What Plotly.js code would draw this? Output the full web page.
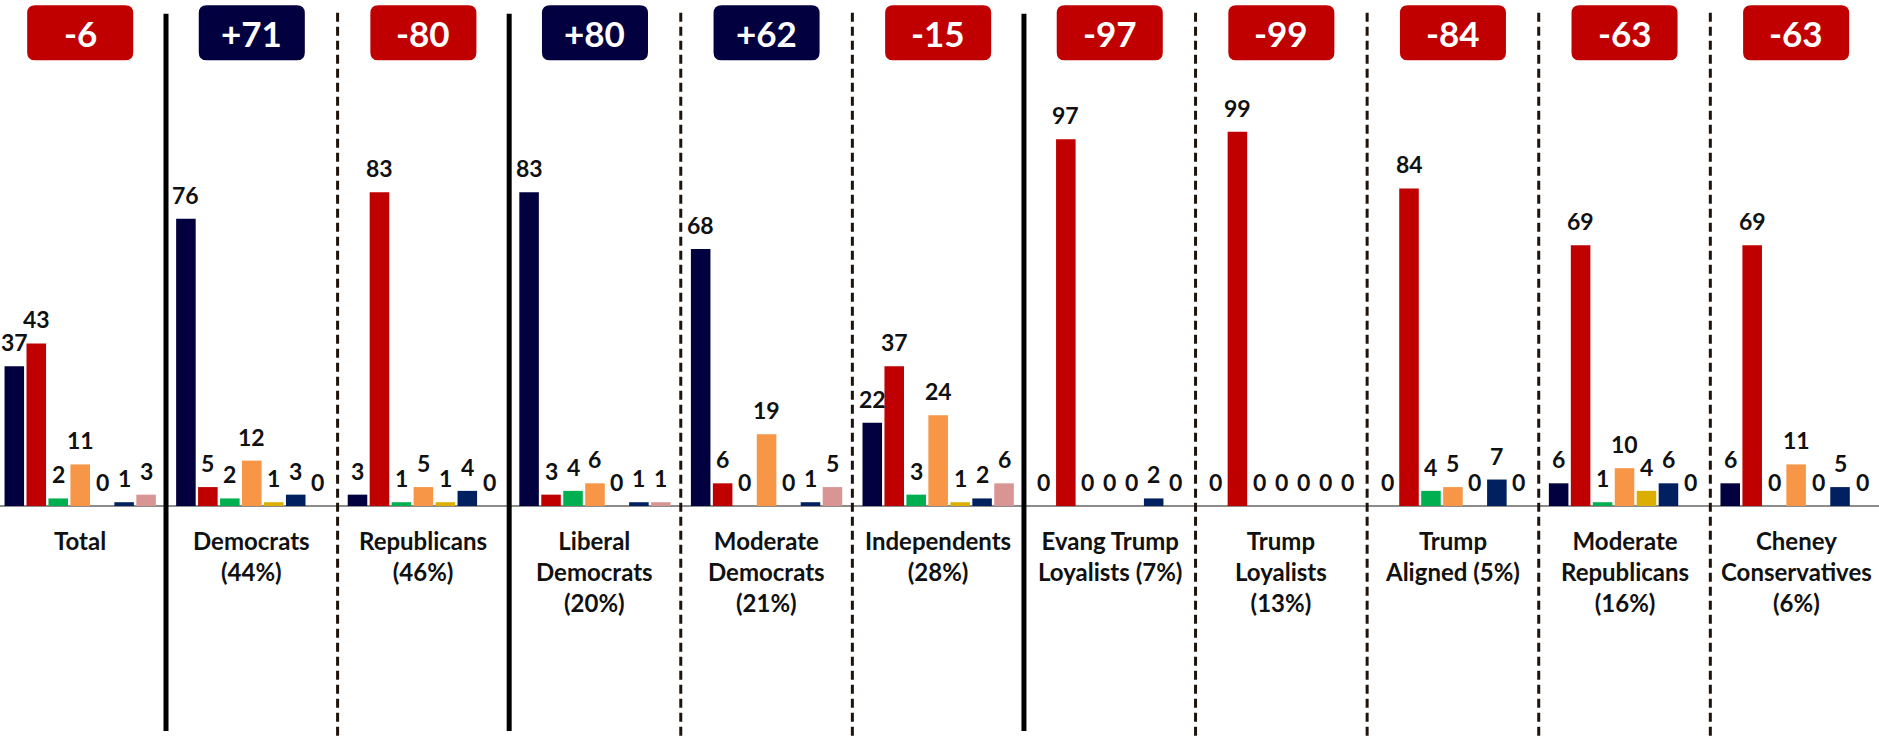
<!DOCTYPE html>
<html>
<head>
<meta charset="utf-8">
<script src="https://cdn.plot.ly/plotly-3.0.1.min.js"></script>
<style>
  html, body { margin: 0; padding: 0; background: #ffffff; }
  #chart { width: 1879px; height: 738px; }
</style>
</head>
<body>
<div id="chart"></div>
<script>
// ---- data ----
const categories = [
  "Total",
  "Democrats<br>(44%)",
  "Republicans<br>(46%)",
  "Liberal<br>Democrats<br>(20%)",
  "Moderate<br>Democrats<br>(21%)",
  "Independents<br>(28%)",
  "Evang Trump<br>Loyalists (7%)",
  "Trump<br>Loyalists<br>(13%)",
  "Trump<br>Aligned (5%)",
  "Moderate<br>Republicans<br>(16%)",
  "Cheney<br>Conservatives<br>(6%)"
];
const seriesNames = ["Series 1", "Series 2", "Series 3", "Series 4", "Series 5", "Series 6", "Series 7"];
const series1 = [37, 76, 3, 83, 68, 22, 0, 0, 0, 6, 6];
const series2 = [43, 5, 83, 3, 6, 37, 97, 99, 84, 69, 69];
const series3 = [2, 2, 1, 4, 0, 3, 0, 0, 4, 1, 0];
const series4 = [11, 12, 5, 6, 19, 24, 0, 0, 5, 10, 11];
const series5 = [0, 1, 1, 0, 0, 1, 0, 0, 0, 4, 0];
const series6 = [1, 3, 4, 1, 1, 2, 2, 0, 7, 6, 5];
const series7 = [3, 0, 0, 1, 5, 6, 0, 0, 0, 0, 0];
const netLabels = [-6, 71, -80, 80, 62, -15, -97, -99, -84, -63, -63];
const solidAfter = [0, 2, 5];   // group separators drawn solid (others dashed)

// ---- styling ----
const seriesColors = ["#03003f", "#c00000", "#00b050", "#f79646", "#dcae00", "#002060", "#d99594"];
const allSeries = [series1, series2, series3, series4, series5, series6, series7];
const FONT = "Lato, 'Open Sans', sans-serif";
const bargap = 0.104, bargroupgap = 0.11;
const yTop = 133.86, yBottom = -61.38;
const xMin = -0.4674, xMax = 10.483;

const idx = categories.map((_, i) => i);
const traces = allSeries.map((vals, k) => ({
  type: "bar",
  name: seriesNames[k],
  x: idx,
  y: vals,
  marker: { color: seriesColors[k], line: { width: 0 } },
  hoverinfo: "skip"
}));

const annotations = [];
const nS = allSeries.length;
const slot = (1 - bargap) / nS;
allSeries.forEach((vals, k) => {
  vals.forEach((v, i) => {
    annotations.push({
      x: i + (k - (nS - 1) / 2) * slot,
      y: v, xref: "x", yref: "y",
      text: String(v), showarrow: false,
      yanchor: "bottom", yshift: 8,
      font: { family: FONT, size: 23, color: "#111111", weight: 700 }
    });
  });
});
categories.forEach((c, i) => {
  annotations.push({
    x: i, y: 0, xref: "x", yref: "y",
    text: c, showarrow: false,
    yanchor: "top", yshift: -18,
    align: "center",
    font: { family: FONT, size: 24, color: "#111111", weight: 700 }
  });
});

// badges
const shapes = [];
const bTop = 132.5, bBot = 117.9, halfW = 0.309, rx = 0.047, ry = 2.1;
netLabels.forEach((v, i) => {
  const l = i - halfW, r = i + halfW;
  const path = `M ${l + rx} ${bTop} L ${r - rx} ${bTop} Q ${r} ${bTop} ${r} ${bTop - ry} ` +
    `L ${r} ${bBot + ry} Q ${r} ${bBot} ${r - rx} ${bBot} L ${l + rx} ${bBot} ` +
    `Q ${l} ${bBot} ${l} ${bBot + ry} L ${l} ${bTop - ry} Q ${l} ${bTop} ${l + rx} ${bTop} Z`;
  shapes.push({
    type: "path", xref: "x", yref: "y", path: path,
    fillcolor: v < 0 ? "#c00000" : "#03003f", line: { width: 0 }, layer: "above"
  });
  annotations.push({
    x: i, y: (bTop + bBot) / 2, xref: "x", yref: "y",
    text: (v > 0 ? "+" : "") + v, showarrow: false,
    yanchor: "middle", xanchor: "center",
    font: { family: FONT, size: 35, color: "#ffffff", weight: 700 }
  });
});

// separators
for (let i = 0; i < categories.length - 1; i++) {
  const solid = solidAfter.includes(i);
  shapes.push({
    type: "line", xref: "x", yref: "y",
    x0: i + 0.5, x1: i + 0.5,
    y0: solid ? 130.2 : 130.5, y1: solid ? -59.5 : yBottom,
    line: solid ? { color: "#000000", width: 5 } : { color: "#1e140c", width: 3, dash: "9px,5px" },
    layer: "above"
  });
}

const layout = {
  width: 1879, height: 738,
  margin: { l: 0, r: 0, t: 0, b: 0 },
  paper_bgcolor: "#ffffff", plot_bgcolor: "#ffffff",
  barmode: "group", bargap: bargap, bargroupgap: bargroupgap,
  showlegend: false,
  xaxis: { type: "linear", range: [xMin, xMax], showgrid: false, zeroline: false, showticklabels: false, ticks: "", showline: false },
  yaxis: { range: [yBottom, yTop], showgrid: false, zeroline: true, zerolinecolor: "#8c8c8c", zerolinewidth: 2, showticklabels: false, ticks: "", showline: false },
  annotations: annotations,
  shapes: shapes,
  font: { family: FONT }
};

Plotly.newPlot("chart", traces, layout, { displayModeBar: false, staticPlot: true });
</script>
</body>
</html>
